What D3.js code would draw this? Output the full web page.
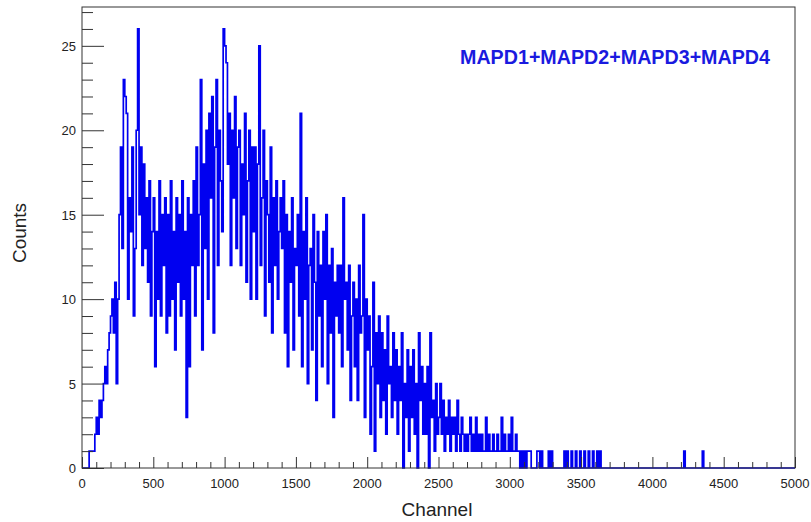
<!DOCTYPE html>
<html>
<head>
<meta charset="utf-8">
<script src="https://cdn.jsdelivr.net/npm/d3@7"></script>
<style>
  html, body { margin: 0; padding: 0; background: #fff; }
  svg { display: block; }
</style>
</head>
<body>
<svg id="chart" width="811" height="522"></svg>
<script>
// Spectrum binning: 500 bins of 10 channels starting at channel 0
const binStart = 0;
const binWidth = 10;

// Counts per bin (sum of MAPD1..MAPD4)
const counts = [
  0,0,0,0,0,1,1,1,1,2,
  3,2,4,3,4,5,6,5,7,8,
  9,10,8,11,5,10,15,19,13,23,
  22,21,10,16,14,19,9,13,20,26,
  15,19,12,18,13,16,11,17,9,14,
  16,6,14,10,17,9,15,12,16,8,
  15,9,17,10,14,7,16,11,15,9,
  17,10,14,3,16,6,15,12,17,9,
  19,12,15,23,7,18,13,20,10,21,
  16,22,8,19,23,12,20,17,14,26,
  25,24,18,21,12,20,16,22,13,19,
  20,12,18,15,21,11,17,20,10,19,
  14,19,10,18,25,12,16,20,9,17,
  15,11,19,8,16,12,17,10,14,16,
  13,17,8,15,6,14,11,16,7,13,
  12,15,9,21,6,14,10,16,5,12,
  13,7,15,11,4,14,9,12,6,14,
  10,15,5,12,8,13,3,11,9,12,
  8,12,6,16,10,11,7,12,4,9,
  11,6,10,4,12,8,9,15,3,10,
  7,9,2,6,11,1,8,5,9,3,
  8,4,7,2,9,5,6,3,8,4,
  7,2,6,4,8,0,5,3,7,1,
  6,3,7,2,5,0,8,4,6,2,
  5,2,6,0,8,3,4,1,5,2,
  3,5,2,4,1,3,2,4,1,3,
  2,3,1,4,2,1,3,2,1,2,
  1,2,3,1,2,1,3,1,2,1,
  2,1,1,3,1,2,1,1,2,1,
  1,2,1,1,3,1,2,1,1,2,
  1,3,1,1,2,1,1,0,1,0,
  1,0,1,1,1,0,0,0,0,1,
  1,0,1,0,0,0,0,1,0,1,
  0,0,0,0,0,0,0,0,1,0,
  1,0,0,1,0,0,1,0,0,1,
  0,0,1,0,0,1,0,0,1,0,
  0,1,0,1,0,0,0,0,0,0,
  0,0,0,0,0,0,0,0,0,0,
  0,0,0,0,0,0,0,0,0,0,
  0,0,0,0,0,0,0,0,0,0,
  0,0,0,0,0,0,0,0,0,0,
  0,0,0,0,0,0,0,0,0,0,
  0,0,1,0,0,0,0,0,0,0,
  0,0,0,0,0,1,0,0,0,0,
  0,0,0,0,0,0,0,0,0,0,
  0,0,0,0,0,0,0,0,0,0,
  0,0,0,0,0,0,0,0,0,0,
  0,0,0,0,0,0,0,0,0,0,
  0,0,0,0,0,0,0,0,0,0,
  0,0,0,0,0,0,0,0,0,0
];

const xTickValues = [0, 500, 1000, 1500, 2000, 2500, 3000, 3500, 4000, 4500, 5000];
const yTickValues = [0, 5, 10, 15, 20, 25];
const titleText = "MAPD1+MAPD2+MAPD3+MAPD4";
const xTitle = "Channel";
const yTitle = "Counts";

const svg = d3.select("#chart");
const plot = { left: 82, right: 795, top: 7, bottom: 468 };

const x = d3.scaleLinear().domain([0, 5000]).range([plot.left, plot.right]);
const y = d3.scaleLinear().domain([0, 27.3]).range([plot.bottom, plot.top]);

// Histogram outline as a step line
const pts = counts.map((c, i) => [binStart + i * binWidth, c]);
pts.push([binStart + counts.length * binWidth, counts[counts.length - 1]]);
const step = d3.line()
  .x(d => x(d[0]))
  .y(d => y(d[1]))
  .curve(d3.curveStepAfter);

svg.append("path")
  .attr("d", step(pts))
  .attr("fill", "none")
  .attr("stroke", "#0000f0")
  .attr("stroke-width", 1.7)
  .attr("stroke-linejoin", "miter");

// Frame
svg.append("rect")
  .attr("x", plot.left).attr("y", plot.top)
  .attr("width", plot.right - plot.left).attr("height", plot.bottom - plot.top)
  .attr("fill", "none").attr("stroke", "#333").attr("stroke-width", 1);

const axisFont = "Liberation Sans, Arial, Helvetica, sans-serif";

// X axis: ticks pointing into the frame
const xMinor = d3.range(0, 5001, 100).filter(v => v % 500 !== 0);
const xAxis = d3.axisTop(x).tickValues(xTickValues).tickSize(11).tickFormat("");
const gx = svg.append("g").attr("transform", `translate(0,${plot.bottom})`).call(xAxis);
gx.select(".domain").remove();
gx.selectAll(".tick line").attr("stroke", "#333");
const xAxisMinor = d3.axisTop(x).tickValues(xMinor).tickSize(6).tickFormat("");
const gxm = svg.append("g").attr("transform", `translate(0,${plot.bottom})`).call(xAxisMinor);
gxm.select(".domain").remove();
gxm.selectAll(".tick line").attr("stroke", "#333");

svg.append("g").selectAll("text")
  .data(xTickValues)
  .join("text")
  .attr("x", d => x(d))
  .attr("y", plot.bottom + 20)
  .attr("text-anchor", "middle")
  .attr("font-family", axisFont)
  .attr("font-size", 13)
  .attr("fill", "#222")
  .text(d => d);

// Y axis: ticks pointing into the frame
const yMinor = d3.range(0, 28, 1).filter(v => v % 5 !== 0);
const yAxis = d3.axisRight(y).tickValues(yTickValues).tickSize(22).tickFormat("");
const gy = svg.append("g").attr("transform", `translate(${plot.left},0)`).call(yAxis);
gy.select(".domain").remove();
gy.selectAll(".tick line").attr("stroke", "#333");
const yAxisMinor = d3.axisRight(y).tickValues(yMinor).tickSize(11).tickFormat("");
const gym = svg.append("g").attr("transform", `translate(${plot.left},0)`).call(yAxisMinor);
gym.select(".domain").remove();
gym.selectAll(".tick line").attr("stroke", "#333");

svg.append("g").selectAll("text")
  .data(yTickValues)
  .join("text")
  .attr("x", plot.left - 6)
  .attr("y", d => y(d) + 5)
  .attr("text-anchor", "end")
  .attr("font-family", axisFont)
  .attr("font-size", 13)
  .attr("fill", "#222")
  .text(d => d);

// Axis titles
svg.append("text")
  .attr("x", 437).attr("y", 516)
  .attr("text-anchor", "middle")
  .attr("font-family", axisFont)
  .attr("font-size", 19)
  .attr("fill", "#222")
  .text(xTitle);

svg.append("text")
  .attr("transform", "translate(26,233) rotate(-90)")
  .attr("text-anchor", "middle")
  .attr("font-family", axisFont)
  .attr("font-size", 19)
  .attr("fill", "#222")
  .text(yTitle);

// Label
svg.append("text")
  .attr("x", 460).attr("y", 64)
  .attr("font-family", axisFont)
  .attr("font-weight", "bold")
  .attr("font-size", 19.5)
  .attr("textLength", 310)
  .attr("lengthAdjust", "spacingAndGlyphs")
  .attr("fill", "#1a1adf")
  .text(titleText);
</script>
</body>
</html>
